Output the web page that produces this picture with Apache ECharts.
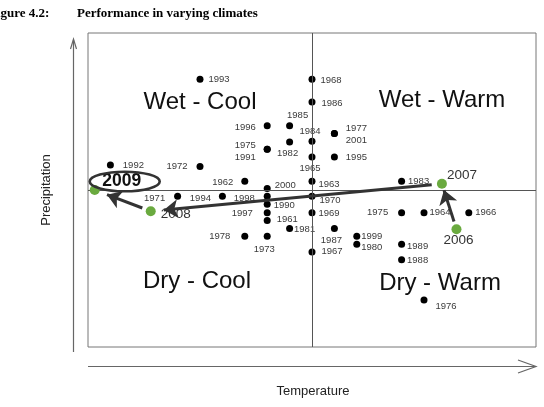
<!DOCTYPE html>
<html><head><meta charset="utf-8">
<script src="https://cdn.jsdelivr.net/npm/echarts@6/dist/echarts.min.js"></script>
<style>html,body{margin:0;padding:0;background:#fff;}#c{width:544px;height:407px;}</style>
</head><body><div id="c"></div>
<script>
// ---- data ----
const years = ['1993','1968','1986','1996','1985','1977','2001','1984','1982','1975','1991','1965','1995','1992','1972','1962','1963','1983','2007','2000','2009','1971','1994','1998','1970','1990','2008','1997','1969','1975','1964','1966','1961','1981','1987','2006','1978','1973','1999','1980','1989','1967','1988','1976'];
const temperature = [-5.0,0,0,-2.0,-1.0,1.0,1.0,0,-1.0,-2.0,-2.0,0,1.0,-9.0,-5.0,-3.0,0,4.0,5.8,-2.0,-9.7,-6.0,-4.0,-2.0,0,-2.0,-7.2,-2.0,0,4.0,5.0,7.0,-2.0,-1.0,1.0,6.45,-3.0,-2.0,2.0,2.0,4.0,0,4.0,5.0];
const precipitation = [7.05,7.05,5.6,4.1,4.1,3.6,3.6,3.1,3.05,2.6,2.6,2.1,2.1,1.6,1.5,0.55,0.55,0.55,0.4,0.1,0.0,-0.4,-0.4,-0.4,-0.4,-0.9,-1.35,-1.45,-1.45,-1.45,-1.45,-1.45,-1.95,-2.45,-2.45,-2.5,-2.95,-2.95,-2.95,-3.45,-3.45,-3.95,-4.45,-7.0];
const highlightYears = ['2006','2007','2008','2009'];
const pathYears = ['2006','2007','2008','2009'];
const quadrantNames = ['Wet - Cool','Wet - Warm','Dry - Cool','Dry - Warm'];
const axisTitles = ['Temperature','Precipitation'];

// ---- styles (label offsets in px, aligned with years) ----
const labelOffset = [[19,0],[19,1],[20,1.5],[-22,2],[8,-10],[22,-5],[22,6.5],[-2,-10],[-2,11],[-22,-4],[-22,8],[-2,11.5],[22,0],[23,0],[-23,0],[-22,1],[17,3],[17,0],[20,-8],[18,-3.5],[27,-9],[-23,2],[-22,2],[-23,2],[18,4],[17,1],[25,3],[-25,1],[17,1],[-24,0],[16,0],[17,0],[20,-1],[15,1],[-3,12],[2,11],[-25,0],[-3,13],[15,0],[15,3],[16,2],[20,-1],[16,1],[22,6]];
const arrowTrim = [[0.17,0.86],[0.035,0.955],[0.15,0.78]];
const GREEN = '#6aaa3f';

const blackData = [], greenData = [];
years.forEach((y,i)=>{
  const item = {value:[temperature[i],precipitation[i]], name:y, label:{offset:labelOffset[i]}};
  if (highlightYears.indexOf(y) >= 0) {
    if (y === '2009') item.label = {offset:labelOffset[i], fontSize:17.5, fontWeight:'bold', color:'#111'};
    greenData.push(item);
  } else blackData.push(item);
});
function pt(y){ const i = years.indexOf(y); return [temperature[i],precipitation[i]]; }
const arrowData = [];
for (let k=0;k<pathYears.length-1;k++){
  const a = pt(pathYears[k]), b = pt(pathYears[k+1]), t = arrowTrim[k];
  arrowData.push({coords:[[a[0]+(b[0]-a[0])*t[0], a[1]+(b[1]-a[1])*t[0]],[a[0]+(b[0]-a[0])*t[1], a[1]+(b[1]-a[1])*t[1]]]});
}

const chart = echarts.init(document.getElementById('c'), null, {renderer:'canvas'});
const FONT = 'Liberation Sans, Arial, sans-serif';
const hidden = {axisLine:{show:false},axisTick:{show:false},axisLabel:{show:false},splitLine:{show:false}};
chart.setOption({
  animation:false,
  grid:{left:88, top:33, width:448, height:314, show:true, borderColor:'#777', borderWidth:1, backgroundColor:'transparent'},
  xAxis:Object.assign({type:'value', min:-10, max:10}, hidden),
  yAxis:Object.assign({type:'value', min:-10, max:10}, hidden),
  series:[
    {type:'scatter', data:blackData, symbolSize:7, itemStyle:{color:'#000', opacity:1}, z:3,
     label:{show:true, position:'inside', formatter:p=>p.name, fontSize:9.5, color:'#3a3a3a', fontFamily:FONT},
     markLine:{silent:true, symbol:'none', label:{show:false}, lineStyle:{color:'#555', width:1, type:'solid'},
       data:[{xAxis:0},{yAxis:0}]}},
    {type:'lines', coordinateSystem:'cartesian2d', data:arrowData, symbol:['none','arrow'], symbolSize:14,
     lineStyle:{color:'#333', width:3, opacity:1, curveness:0}, z:5},
    {type:'scatter', data:greenData, symbolSize:10, itemStyle:{color:GREEN, opacity:1}, z:6,
     label:{show:true, position:'inside', formatter:p=>p.name, fontSize:13.5, color:'#333', fontFamily:FONT}}
  ],
  graphic:[
    {id:'t1', type:'text', left:-11, top:7, style:{text:'Figure 4.2:', font:'bold 13px "Liberation Serif", serif', fill:'#000'}},
    {id:'t2', type:'text', left:77, top:7, style:{text:'Performance in varying climates', font:'bold 13px "Liberation Serif", serif', fill:'#000'}},
    {id:'q1', type:'text', x:200, y:102, style:{text:quadrantNames[0], font:'24px '+FONT, fill:'#111', align:'center', verticalAlign:'middle'}},
    {id:'q2', type:'text', x:442, y:100, style:{text:quadrantNames[1], font:'24px '+FONT, fill:'#111', align:'center', verticalAlign:'middle'}},
    {id:'q3', type:'text', x:197, y:281, style:{text:quadrantNames[2], font:'24px '+FONT, fill:'#111', align:'center', verticalAlign:'middle'}},
    {id:'q4', type:'text', x:440, y:283, style:{text:quadrantNames[3], font:'24px '+FONT, fill:'#111', align:'center', verticalAlign:'middle'}},
    {id:'ax1', type:'text', x:313, y:391, style:{text:axisTitles[0], font:'13px '+FONT, fill:'#222', align:'center', verticalAlign:'middle'}},
    {id:'ax2', type:'text', x:46, y:190, rotation:Math.PI/2, style:{text:axisTitles[1], font:'13px '+FONT, fill:'#222', align:'center', verticalAlign:'middle'}},
    {id:'l1', type:'line', shape:{x1:73.5, y1:40, x2:73.5, y2:352}, style:{stroke:'#666', lineWidth:1.2}},
    {id:'l2', type:'polyline', shape:{points:[[70.5,49],[73.5,39],[76.5,49]]}, style:{stroke:'#666', lineWidth:1.2, fill:null}},
    {id:'l3', type:'line', shape:{x1:88, y1:366.5, x2:536, y2:366.5}, style:{stroke:'#666', lineWidth:1.2}},
    {id:'l4', type:'polyline', shape:{points:[[518,360],[536,366.5],[518,373]]}, style:{stroke:'#666', lineWidth:1.2, fill:null}}
  ]
});
// ellipse around the 2009 label
const p9 = chart.convertToPixel({seriesIndex:2}, pt('2009'));
chart.setOption({graphic:[{id:'ell', type:'ellipse', shape:{cx:p9[0]+30, cy:p9[1]-8.5, rx:35, ry:9.8}, style:{stroke:'#333', lineWidth:2.6, fill:null}, z:10}]});
</script>
</body></html>
